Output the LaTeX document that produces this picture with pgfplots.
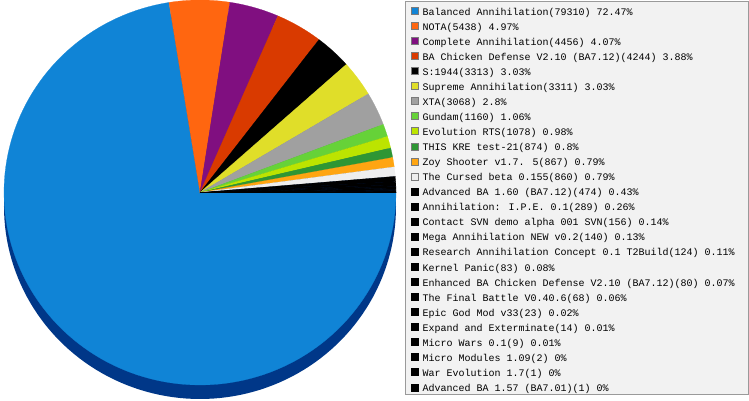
\documentclass[border=0pt]{standalone}
\usepackage{pgfplots}
\pgfplotsset{compat=1.18}
\usepackage{fontspec}
\newfontfamily\legfont{Liberation Mono}
\definecolor{c1}{HTML}{1084D6}
\definecolor{c2}{HTML}{FF6610}
\definecolor{c3}{HTML}{800F80}
\definecolor{c4}{HTML}{D93A00}
\definecolor{c5}{HTML}{000000}
\definecolor{c6}{HTML}{E0DE29}
\definecolor{c7}{HTML}{A0A0A0}
\definecolor{c8}{HTML}{66D238}
\definecolor{c9}{HTML}{BCE400}
\definecolor{c10}{HTML}{2E9634}
\definecolor{c11}{HTML}{FFA511}
\definecolor{c12}{HTML}{EEEEEE}
\definecolor{side}{HTML}{003788}
\definecolor{legbg}{HTML}{F2F2F2}
\definecolor{legborder}{HTML}{9A9A9A}
\definecolor{sqb}{HTML}{7A7A7A}
\newcommand\legtxt[1]{\makebox[321pt][l]{\rule[-3pt]{0pt}{15.5pt}#1}}
\begin{document}
\begin{tikzpicture}
\begin{axis}[
  at={(4pt,15pt)}, anchor=south west,
  scale only axis, width=392pt, height=385pt,
  xmin=-1, xmax=1, ymin=-1, ymax=1,
  hide axis, clip=false,
  legend style={
    at={(1.02296,0.9974)}, anchor=north west,
    fill=legbg, draw=legborder, line width=1pt,
    inner xsep=5pt, inner ysep=1pt,
    row sep=1.06pt, column sep=4pt,
    font=\legfont\fontsize{10pt}{12pt}\selectfont,
    nodes={inner sep=0pt},
    cells={anchor=base west},
  },
  legend image code/.code={\draw[line width=1pt,#1] (0.5pt,0.5pt) rectangle (7.5pt,7.5pt);},
]
\fill[side] plot[domain=0:360, samples=181, variable=\t] ({cos(\t)},{sin(\t)-0.0727}) -- cycle;
\xdef\cum{0}
\foreach \v/\col in {79310/c1, 5438/c2, 4456/c3, 4244/c4, 3313/c5, 3311/c6, 3068/c7, 1160/c8, 1078/c9, 874/c10, 867/c11, 860/c12, 474/c5, 289/c5, 156/c5, 140/c5, 124/c5, 83/c5, 80/c5, 68/c5, 23/c5, 14/c5, 9/c5, 2/c5, 1/c5, 1/c5} {
  \edef\aS{\fpeval{-360*\cum/109443}}
  \xdef\cum{\fpeval{\cum+\v}}
  \edef\aE{\fpeval{-360*\cum/109443}}
  \edef\ns{\fpeval{trunc(abs(\aE-\aS)/2)+3}}
  \edef\temp{\noexpand\fill[\col, draw=\col, line width=0.2pt] (0,0) -- plot[domain=\aS:\aE, samples=\ns, variable=\noexpand\t] ({cos(\noexpand\t)},{sin(\noexpand\t)}) -- cycle;}
  \temp
}
\addlegendimage{fill=c1,draw=sqb}\addlegendentry{\legtxt{Balanced Annihilation(79310) 72.47\%}}
\addlegendimage{fill=c2,draw=sqb}\addlegendentry{\legtxt{NOTA(5438) 4.97\%}}
\addlegendimage{fill=c3,draw=sqb}\addlegendentry{\legtxt{Complete Annihilation(4456) 4.07\%}}
\addlegendimage{fill=c4,draw=sqb}\addlegendentry{\legtxt{BA Chicken Defense V2.10 (BA7.12)(4244) 3.88\%}}
\addlegendimage{fill=c5,draw=sqb}\addlegendentry{\legtxt{S:1944(3313) 3.03\%}}
\addlegendimage{fill=c6,draw=sqb}\addlegendentry{\legtxt{Supreme Annihilation(3311) 3.03\%}}
\addlegendimage{fill=c7,draw=sqb}\addlegendentry{\legtxt{XTA(3068) 2.8\%}}
\addlegendimage{fill=c8,draw=sqb}\addlegendentry{\legtxt{Gundam(1160) 1.06\%}}
\addlegendimage{fill=c9,draw=sqb}\addlegendentry{\legtxt{Evolution RTS(1078) 0.98\%}}
\addlegendimage{fill=c10,draw=sqb}\addlegendentry{\legtxt{THIS KRE test-21(874) 0.8\%}}
\addlegendimage{fill=c11,draw=sqb}\addlegendentry{\legtxt{Zoy Shooter v1.7. 5(867) 0.79\%}}
\addlegendimage{fill=c12,draw=sqb}\addlegendentry{\legtxt{The Cursed beta 0.155(860) 0.79\%}}
\addlegendimage{fill=black,draw=black}\addlegendentry{\legtxt{Advanced BA 1.60 (BA7.12)(474) 0.43\%}}
\addlegendimage{fill=black,draw=black}\addlegendentry{\legtxt{Annihilation: I.P.E. 0.1(289) 0.26\%}}
\addlegendimage{fill=black,draw=black}\addlegendentry{\legtxt{Contact SVN demo alpha 001 SVN(156) 0.14\%}}
\addlegendimage{fill=black,draw=black}\addlegendentry{\legtxt{Mega Annihilation NEW v0.2(140) 0.13\%}}
\addlegendimage{fill=black,draw=black}\addlegendentry{\legtxt{Research Annihilation Concept 0.1 T2Build(124) 0.11\%}}
\addlegendimage{fill=black,draw=black}\addlegendentry{\legtxt{Kernel Panic(83) 0.08\%}}
\addlegendimage{fill=black,draw=black}\addlegendentry{\legtxt{Enhanced BA Chicken Defense V2.10 (BA7.12)(80) 0.07\%}}
\addlegendimage{fill=black,draw=black}\addlegendentry{\legtxt{The Final Battle V0.40.6(68) 0.06\%}}
\addlegendimage{fill=black,draw=black}\addlegendentry{\legtxt{Epic God Mod v33(23) 0.02\%}}
\addlegendimage{fill=black,draw=black}\addlegendentry{\legtxt{Expand and Exterminate(14) 0.01\%}}
\addlegendimage{fill=black,draw=black}\addlegendentry{\legtxt{Micro Wars 0.1(9) 0.01\%}}
\addlegendimage{fill=black,draw=black}\addlegendentry{\legtxt{Micro Modules 1.09(2) 0\%}}
\addlegendimage{fill=black,draw=black}\addlegendentry{\legtxt{War Evolution 1.7(1) 0\%}}
\addlegendimage{fill=black,draw=black}\addlegendentry{\legtxt{Advanced BA 1.57 (BA7.01)(1) 0\%}}
\end{axis}
\pgfresetboundingbox
\path (0,0) rectangle (749pt,400pt);
\end{tikzpicture}
\end{document}
